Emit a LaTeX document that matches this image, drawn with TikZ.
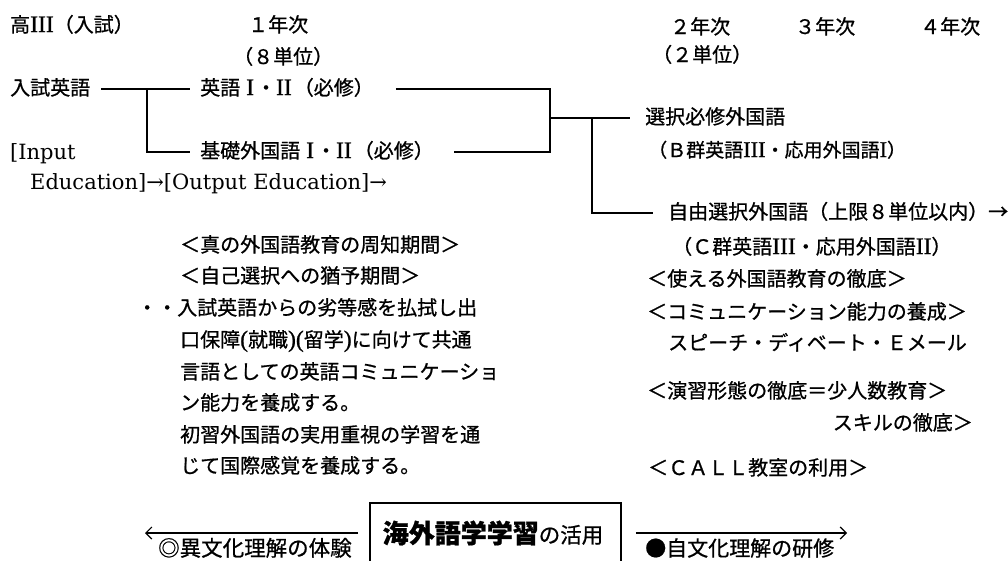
\documentclass[tikz,border=0pt]{standalone}
\usepackage{fontspec}
\setmainfont{Noto Sans CJK JP}[FakeBold=0.8]
\newfontfamily\latfont{DejaVu Serif}[Scale=1.05]
\newfontfamily\rnfont{Liberation Serif}[Scale=1.18,FakeBold=0.8]
\usetikzlibrary{arrows.meta}
\newcommand{\rnum}[1]{{\rnfont #1}}
\begin{document}
\begin{tikzpicture}[x=1pt,y=-1pt,
  t/.style={anchor=base west, inner sep=0pt, text height=15pt, text depth=3pt, font=\fontsize{20}{20}\selectfont},
  ln/.style={line width=1.3pt},
  arr/.style={line width=1.2pt, -{Straight Barb[length=6pt,width=12pt]}},
  bigbox/.style={draw, line width=1.8pt, anchor=north, minimum width=251pt, minimum height=62pt, inner sep=0pt}]
\useasboundingbox (0,0) rectangle (1008,560);
% header
\node[t] (hs) at (10,32) {高\rnum{III}（入試）};
\node[t] (y1) at (248,32) {１年次};
\node[t] (u8) at (233,64) {（８単位）};
\node[t] (y2) at (670,34) {２年次};
\node[t] (y3) at (795,34) {３年次};
\node[t] (y4) at (920,34) {４年次};
\node[t] (u2) at (652,62) {（２単位）};
% left column
\node[t] (ne) at (10,95) {入試英語};
\node[t] (eg) at (200,95) {英語\hspace{6pt}\rnum{I}\hspace{2pt}・\rnum{II}\hspace{2pt}（必修）};
\node[t] (inp) at (10,159) {\latfont [Input};
\node[t] (ki) at (200,158) {基礎外国語\hspace{6pt}\rnum{I}\hspace{2pt}・\rnum{II}\hspace{2pt}（必修）};
\node[t] (edu) at (30,189) {\latfont Education]→[Output Education]→};
% right column
\node[t] (sh) at (645,124) {選択必修外国語};
\node[t, font=\fontsize{19}{19}\selectfont] (bg) at (648,157) {（Ｂ群英語\rnum{III}・応用外国語\rnum{I}）};
\node[t] (jy) at (668,219) {自由選択外国語（上限８単位以内）→};
\node[t] (cg) at (672,254) {（Ｃ群英語\rnum{III}・応用外国語\rnum{II}）};
\node[t] (ts) at (647,286) {＜使える外国語教育の徹底＞};
\node[t] (co) at (647,319) {＜コミュニケーション能力の養成＞};
\node[t] (sp) at (668,350) {スピーチ・ディベート・Ｅメール};
\node[t] (en) at (647,398) {＜演習形態の徹底＝少人数教育＞};
\node[t, anchor=base east] (sk) at (973,430) {スキルの徹底＞};
\node[t] (ca) at (648,475) {＜ＣＡＬＬ教室の利用＞};
% middle block
\node[t] (m1) at (180,252) {＜真の外国語教育の周知期間＞};
\node[t] (m2) at (180,283) {＜自己選択への猶予期間＞};
\node[t] (m3) at (137,315) {・・入試英語からの劣等感を払拭し出};
\node[t] (m4) at (180,347) {口保障\rnum{(}就職\rnum{)(}留学\rnum{)}に向けて共通};
\node[t] (m5) at (180,379) {言語としての英語コミュニケーショ};
\node[t] (m6) at (180,410) {ン能力を養成する。};
\node[t] (m7) at (180,442) {初習外国語の実用重視の学習を通};
\node[t] (m8) at (180,473) {じて国際感覚を養成する。};
% connectors
\coordinate (j1) at (147,89);
\coordinate (br) at (550,0);
\coordinate (bm) at (550,118);
\coordinate (bv) at (592,118);
\draw[ln, shorten <=11pt, shorten >=10pt] (ne.east) -- (eg.west);
\draw[ln, shorten >=10pt] (j1) |- (ki.west);
\draw[ln] ([xshift=22pt]eg.east) -- (eg.east -| br) -- (ki.east -| br) -- ([xshift=20pt]ki.east);
\draw[ln, shorten >=15pt] (bm) -- (sh.west);
\draw[ln, shorten >=15pt] (bv) |- (jy.west);
% bottom box
\node[bigbox] (bx) at (495.5,502) {};
\node[inner sep=0pt] (bxt) at (493,533) {{\fontsize{26}{26}\selectfont\bfseries 海外語学学習}{\fontsize{21.5}{21.5}\selectfont の活用}};
\coordinate (la) at (145,533);
\coordinate (ra) at (847,533);
\draw[arr, shorten <=11pt] (bx.west |- bxt) -- (la);
\draw[arr, shorten <=14pt] (bx.east |- bxt) -- (ra);
\node[t, font=\fontsize{21.5}{21.5}\selectfont] (ib) at (158,556) {◎異文化理解の体験};
\node[t, font=\fontsize{21}{21}\selectfont] (jb) at (645,556) {●自文化理解の研修};
\end{tikzpicture}
\end{document}
